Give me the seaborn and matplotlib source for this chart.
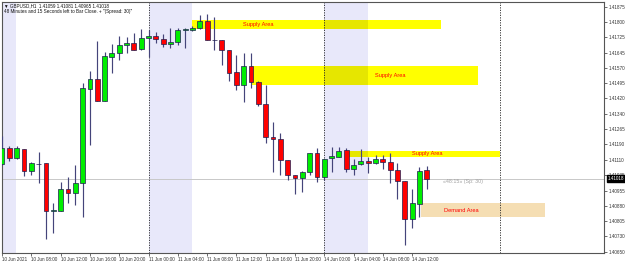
import matplotlib
matplotlib.use("Agg")
import matplotlib.pyplot as plt
import matplotlib.transforms as mtransforms
from matplotlib.patches import Rectangle
import numpy as np
import seaborn as sns

# ---------------- data (GBPUSD H1, candle index 0 = 10 Jun 04:00) ----------------
opens = [1.41089, 1.41169, 1.41119, 1.41164, 1.41057, 1.41089, 1.41094, 1.40857, 1.40857, 1.40964,
         1.40947, 1.40997, 1.41463, 1.41514, 1.41406, 1.41626, 1.41643, 1.41684, 1.41695, 1.41663,
         1.41717, 1.41729, 1.41712, 1.41687, 1.41700, 1.41761, 1.41759, 1.41767, 1.41804, 1.41709,
         1.41709, 1.41659, 1.41548, 1.41484, 1.41579, 1.41501, 1.41390, 1.41227, 1.41214, 1.41110,
         1.41036, 1.41019, 1.41049, 1.41144, 1.41027, 1.41119, 1.41126, 1.41160, 1.41064, 1.41089,
         1.41105, 1.41094, 1.41114, 1.41102, 1.41060, 1.41006, 1.40816, 1.40891, 1.41059]
highs = [1.41230, 1.41182, 1.41182, 1.41166, 1.41102, 1.41149, 1.41096, 1.40894, 1.41001, 1.41027,
         1.41085, 1.41493, 1.41556, 1.41705, 1.41651, 1.41689, 1.41729, 1.41725, 1.41745, 1.41765,
         1.41759, 1.41750, 1.41737, 1.41767, 1.41767, 1.41767, 1.41779, 1.41834, 1.41839, 1.41822,
         1.41711, 1.41661, 1.41634, 1.41643, 1.41643, 1.41503, 1.41484, 1.41301, 1.41247, 1.41112,
         1.41038, 1.41054, 1.41147, 1.41172, 1.41116, 1.41177, 1.41177, 1.41169, 1.41114, 1.41164,
         1.41126, 1.41135, 1.41135, 1.41147, 1.41097, 1.41008, 1.40964, 1.41077, 1.41081]
lows = [1.41085, 1.41107, 1.41114, 1.41031, 1.41036, 1.40997, 1.40718, 1.40745, 1.40855, 1.40894,
        1.40886, 1.40828, 1.41185, 1.41404, 1.41403, 1.41546, 1.41609, 1.41646, 1.41657, 1.41661,
        1.41626, 1.41692, 1.41675, 1.41667, 1.41684, 1.41667, 1.41754, 1.41765, 1.41707, 1.41659,
        1.41584, 1.41506, 1.41460, 1.41401, 1.41468, 1.41380, 1.41197, 1.41052, 1.41036, 1.41011,
        1.40941, 1.40952, 1.41036, 1.41002, 1.41011, 1.41052, 1.41124, 1.41052, 1.41036, 1.41087,
        1.41047, 1.41092, 1.41064, 1.40994, 1.40914, 1.40686, 1.40770, 1.40828, 1.40965]
closes = [1.41169, 1.41119, 1.41169, 1.41057, 1.41094, 1.41092, 1.40857, 1.40858, 1.40964, 1.40947,
          1.40997, 1.41468, 1.41514, 1.41406, 1.41629, 1.41643, 1.41684, 1.41695, 1.41659, 1.41717,
          1.41730, 1.41712, 1.41687, 1.41700, 1.41759, 1.41763, 1.41767, 1.41804, 1.41709, 1.41708,
          1.41659, 1.41546, 1.41484, 1.41579, 1.41501, 1.41390, 1.41224, 1.41214, 1.41110, 1.41036,
          1.41019, 1.41052, 1.41144, 1.41027, 1.41114, 1.41132, 1.41155, 1.41064, 1.41085, 1.41105,
          1.41094, 1.41114, 1.41099, 1.41060, 1.41007, 1.40816, 1.40894, 1.41055, 1.41018]

time_label_idx = [0, 4, 8, 12, 16, 20, 24, 28, 32, 36, 40, 44, 48, 52, 56]
time_labels = ["10 Jun 2021", "10 Jun 08:00", "10 Jun 12:00", "10 Jun 16:00", "10 Jun 20:00",
               "11 Jun 00:00", "11 Jun 04:00", "11 Jun 08:00", "11 Jun 12:00", "11 Jun 16:00",
               "11 Jun 20:00", "14 Jun 00:00", "14 Jun 04:00", "14 Jun 08:00", "14 Jun 12:00"]
price_ticks = [1.41875, 1.41800, 1.41725, 1.41645, 1.41570, 1.41495, 1.41420, 1.41340, 1.41265,
               1.41190, 1.41110, 1.41035, 1.40955, 1.40880, 1.40805, 1.40730, 1.40650]

day_separators = [20, 44, 68]
session_starts = [-4, 20, 44]
session_len = 5.92

zone_names = ["Supply Area", "Supply Area", "Supply Area", "Demand Area"]
zone_kind = ["supply", "supply", "supply", "demand"]
zone_t0 = [25.9, 34.0, 47.3, 57.2]
zone_t1 = [60.0, 65.0, 68.0, 74.1]
zone_lo = [1.41762, 1.41484, 1.41124, 1.40825]
zone_hi = [1.41809, 1.41579, 1.41157, 1.40894]
zone_label_t = [35.0, 53.05, 58.1, 62.7]

current_price = 1.41018
header_ohlc = [1.41059, 1.41081, 1.40965, 1.41018]
timer_text = "«48:15» (Sp: 30)"
timer_t = 60.2

# ---------------- style ----------------
sns.set_theme(style="white")
plt.rcParams['font.family'] = ['Liberation Sans', 'DejaVu Sans']

W, H = 625, 263
fig = plt.figure(figsize=(W / 100, H / 100), dpi=100)
fig.patch.set_facecolor("white")
ax = fig.add_axes([1.7 / W, (H - 253.3) / H, (604 - 1.7) / W, (253.3 - 1.7) / H])
ax.set_facecolor("white")

ax.set_xlim(-0.05, 82.2)
ax.set_ylim(1.40645, 1.41900)

# session bands
band_col = "#E8E8FA"
for s in session_starts:
    ax.axvspan(s, s + session_len, color=band_col, lw=0, zorder=0.5)

# zones
zone_col = {"supply": "#FFFF00", "demand": "#F5DEB3"}
zone_dark = {"supply": "#E6E600", "demand": "#DCC8A2"}
for t0, t1, lo, hi, kind in zip(zone_t0, zone_t1, zone_lo, zone_hi, zone_kind):
    ax.add_patch(Rectangle((t0, lo), t1 - t0, hi - lo, facecolor=zone_col[kind], lw=0, zorder=1))
    for s in session_starts:
        a, b = max(t0, s), min(t1, s + session_len)
        if b > a:
            ax.add_patch(Rectangle((a, lo), b - a, hi - lo, facecolor=zone_dark[kind], lw=0, zorder=1.1))
for name, tx, lo, hi in zip(zone_names, zone_label_t, zone_lo, zone_hi):
    ax.text(tx, (lo + hi) / 2, name, color="#FF0000", fontsize=4.1, ha="center", va="center", zorder=2)

# current price line
ax.axhline(current_price, color="#C8C8C8", lw=0.7, zorder=1.5)

# day separators
for d in day_separators:
    ax.axvline(d, color="#222222", lw=0.6, ls=(0, (1.5, 1.5)), zorder=1.6)

# candles
x = np.arange(len(opens))
o = np.array(opens); c = np.array(closes); h = np.array(highs); l = np.array(lows)
bull = c >= o
ax.vlines(x, l, h, color="#44447a", lw=0.85, zorder=3)
body_lo = np.minimum(o, c)
body_h = np.maximum(np.abs(c - o), 0.00003)
ax.bar(x, body_h, bottom=body_lo, width=0.66,
       color=np.where(bull, "#00EE00", "#FF0000"),
       edgecolor="#1e1e50", linewidth=0.5, zorder=4)

# timer text
ax.text(timer_t, current_price - 0.00004, timer_text, color="#A0A0A0", fontsize=3.8,
        ha="left", va="top", zorder=5)

# axes
for sp in ax.spines.values():
    sp.set_color("#555555")
    sp.set_linewidth(0.8)
ax.yaxis.tick_right()
ax.set_yticks(price_ticks)
ax.set_yticklabels([f"{p:.5f}" for p in price_ticks])
ax.set_xticks(time_label_idx)
ax.set_xticklabels(time_labels, ha="left")
ax.tick_params(axis="y", which="both", right=True, left=False, length=2, width=0.5,
               pad=1.5, labelsize=3.3, colors="#333333")
ax.tick_params(axis="x", which="both", bottom=True, length=2, width=0.5,
               pad=0.8, labelsize=3.3, colors="#333333")

# current price box on axis
trans = mtransforms.blended_transform_factory(ax.transAxes, ax.transData)
ax.text(1.006, current_price, f"{current_price:.5f}", transform=trans, fontsize=3.3,
        color="white", ha="left", va="center", zorder=10,
        bbox=dict(boxstyle="square,pad=0.15", fc="black", ec="black"), clip_on=False)

# header
ax.text(2 / W, 1 - 4 / 253, "▼ GBPUSD,H1  " + " ".join(f"{v:.5f}" for v in header_ohlc),
        transform=ax.transAxes, fontsize=3.3, color="#111111", ha="left", va="center", zorder=10)
ax.text(2 / W, 1 - 10 / 253, '48 Minutes and 15 Seconds left to Bar Close. + "(Spread: 30)"',
        transform=ax.transAxes, fontsize=3.3, color="#111111", ha="left", va="center", zorder=10)

fig.savefig("out.png", dpi=100)
